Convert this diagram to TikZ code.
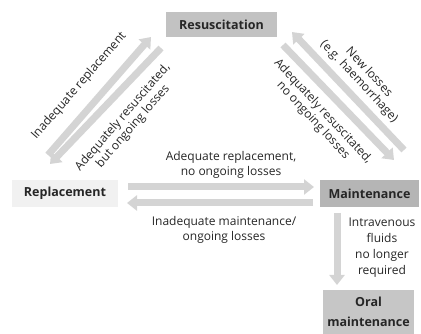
\documentclass[tikz,border=0pt]{standalone}
\usepackage{fontspec}
\setmainfont{Open Sans}
\usetikzlibrary{arrows.meta}
\definecolor{arrowgray}{HTML}{D4D4D4}
\definecolor{boxA}{HTML}{C2C2C2}
\definecolor{boxB}{HTML}{F1F1F1}
\definecolor{boxC}{HTML}{B5B5B5}
\definecolor{boxD}{HTML}{C6C6C6}
\tikzset{
  fatarrow/.style={draw=arrowgray, line width=7pt, -{Triangle[width=15pt,length=10pt]}},
  statebox/.style={inner sep=0pt, font=\fontsize{12.5}{14}\selectfont\bfseries, text=black!85},
  lbl/.style={font=\fontsize{12}{15}\selectfont, text=black!85, align=center, inner sep=0pt},
  dlbl/.style={lbl, font=\fontsize{12}{13.5}\selectfont}
}
\begin{document}
\begin{tikzpicture}[x=1pt,y=-1pt]
\useasboundingbox (0,0) rectangle (421,334);
% boxes
\node[statebox, fill=boxA, minimum width=111pt, minimum height=25pt] (res) at (221.5,24.5) {Resuscitation};
\node[statebox, fill=boxB, minimum width=106pt, minimum height=27pt] (rep) at (65,193.5) {Replacement};
\node[statebox, fill=boxC, minimum width=99pt, minimum height=27pt] (mai) at (369.5,193.5) {Maintenance};
\node[statebox, fill=boxD, minimum width=91pt, minimum height=44pt, align=center, font=\fontsize{12.5}{20}\selectfont\bfseries] (oral) at (368.5,312) {Oral\\maintenance};
% arrow endpoints
\coordinate (a1s) at (48,155); \coordinate (a1e) at (151,37);
\coordinate (a2s) at (161,48); \coordinate (a2e) at (50,164);
\coordinate (a3s) at (404,150); \coordinate (a3e) at (292,32);
\coordinate (a4s) at (283,45); \coordinate (a4e) at (394,160);
\coordinate (h1s) at (128,187); \coordinate (h1e) at (314,187);
\coordinate (h2s) at (313,203); \coordinate (h2e) at (127,203);
\coordinate (vs) at (337,213); \coordinate (ve) at (337,285);
% arrows
\draw[fatarrow] (a1s) -- (a1e);
\draw[fatarrow] (a2s) -- (a2e);
\draw[fatarrow] (a3s) -- (a3e);
\draw[fatarrow] (a4s) -- (a4e);
\draw[fatarrow] (h1s) -- (h1e);
\draw[fatarrow] (h2s) -- (h2e);
\draw[fatarrow] (vs) -- (ve);
% labels
\node[lbl, rotate=49] (l1) at (79,86) {Inadequate replacement};
\node[dlbl, rotate=49] (l2) at (128,122) {Adequately resuscitated,\\but ongoing losses};
\node[dlbl, rotate=-47] (l3) at (364,77) {New losses\\(e.g. haemorrhage)};
\node[dlbl, rotate=-47] (l4) at (318,116) {Adequately resuscitated,\\no ongoing losses};
\node[lbl] (l5) at (231,165) {Adequate replacement,\\no ongoing losses};
\node[lbl] (l6) at (224,230) {Inadequate maintenance/\\ongoing losses};
\node[lbl, font=\fontsize{12}{16}\selectfont] (l7) at (382,248) {Intravenous\\fluids\\no longer\\required};
\end{tikzpicture}
\end{document}
